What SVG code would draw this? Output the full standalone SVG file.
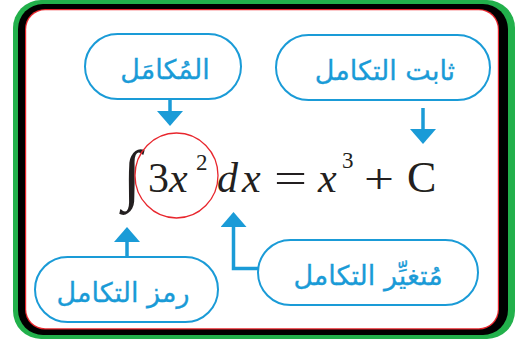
<svg xmlns="http://www.w3.org/2000/svg" width="519" height="340" viewBox="0 0 519 340">
<style>
.pill{fill:#fff;stroke:#1a9bd7;stroke-width:2}
.lbl{font-family:"DejaVu Sans",sans-serif;font-size:27px;fill:#1a9bd7;text-anchor:middle;direction:rtl;stroke:#1a9bd7;stroke-width:0.3}
.conn{fill:none;stroke:#1a9bd7;stroke-width:3.5;marker-end:url(#ah)}
.m{font-family:"Liberation Serif","Times New Roman",serif;fill:#231f20;font-size:42px}
.s{font-size:23px}
.i{font-style:italic}
</style>
<defs>
<marker id="ah" viewBox="0 0 15 26" refX="0" refY="13" markerWidth="15" markerHeight="26" markerUnits="userSpaceOnUse" orient="auto">
<path d="M0,0 L15,13 L0,26 Z" fill="#1a9bd7"/>
</marker>
</defs>
<g id="frame">
<rect x="13" y="0" width="502" height="339" rx="28" fill="#22b04b"/>
<rect x="18" y="4" width="490" height="331" rx="25" fill="#000"/>
<rect x="25" y="9" width="474" height="320.5" rx="20" fill="#e8262d"/>
<rect x="26.2" y="10.2" width="471.6" height="318" rx="19" fill="#fff"/>
</g>
<g id="formula">
<text class="m" x="123" y="197" style="font-size:67px">∫</text>
<ellipse cx="176.5" cy="175.5" rx="41.5" ry="42.5" fill="none" stroke="#e8262d" stroke-width="1.3"/>
<text class="m" x="148" y="192">3<tspan class="i">x</tspan></text>
<text class="m s" x="196" y="170">2</text>
<text class="m i" x="217" y="192" letter-spacing="4">dx</text>
<text class="m" x="274" y="192" textLength="33" lengthAdjust="spacingAndGlyphs">=</text>
<text class="m i" x="318" y="192">x</text>
<text class="m s" x="342" y="168">3</text>
<text class="m" x="364" y="193" textLength="30" lengthAdjust="spacingAndGlyphs">+</text>
<text class="m" x="407" y="192" style="font-size:44px">C</text>
</g>
<g id="n-integrand">
<rect class="pill" x="85" y="34" width="156" height="65" rx="32.5"/>
<text class="lbl" x="165" y="79">المُكامَل</text>
</g>
<g id="n-constant">
<rect class="pill" x="276" y="35" width="214" height="65" rx="32.5"/>
<text class="lbl" x="385" y="80">ثابت التكامل</text>
</g>
<g id="n-symbol">
<rect class="pill" x="35" y="257" width="183" height="65" rx="32.5"/>
<text class="lbl" x="123" y="302">رمز التكامل</text>
</g>
<g id="n-variable">
<rect class="pill" x="258" y="240" width="220" height="65" rx="32.5"/>
<text class="lbl" x="368" y="285">مُتغيِّر التكامل</text>
</g>
<g id="connectors">
<path class="conn" d="M170,99 V111"/>
<path class="conn" d="M423,108 V129"/>
<path class="conn" d="M127,257 V242"/>
<path class="conn" d="M258,268.5 H233.5 V227"/>
</g>
</svg>
